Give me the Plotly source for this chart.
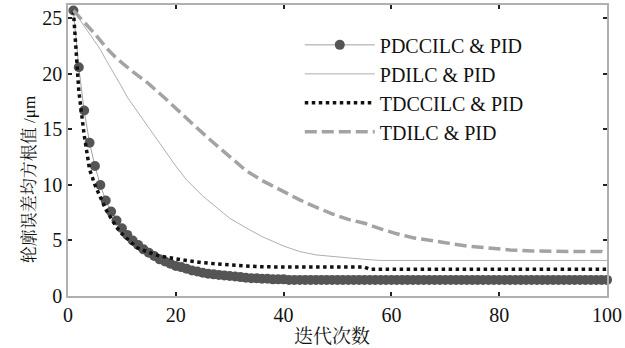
import plotly.graph_objects as go

# PDCCILC & PID (markers at every iteration)
pdccilc_x = list(range(1, 101))
pdccilc_y = [25.7, 20.6, 16.7, 13.8, 11.7, 10.0, 8.6, 7.6, 6.8, 6.1,
             5.5, 5.0, 4.6, 4.2, 3.9, 3.6, 3.3, 3.1, 2.9, 2.7,
             2.6, 2.45, 2.3, 2.2, 2.1, 2.0, 1.95, 1.9, 1.85, 1.8,
             1.75, 1.7, 1.65, 1.6, 1.6, 1.55, 1.55, 1.5, 1.5, 1.5,
             1.45, 1.45, 1.45, 1.45, 1.45, 1.45, 1.45, 1.45, 1.45, 1.45,
             1.45, 1.45, 1.45, 1.45, 1.45, 1.45, 1.45, 1.45, 1.45, 1.45,
             1.45, 1.45, 1.45, 1.45, 1.45, 1.45, 1.45, 1.45, 1.45, 1.45,
             1.45, 1.45, 1.45, 1.45, 1.45, 1.45, 1.45, 1.45, 1.45, 1.45,
             1.45, 1.45, 1.45, 1.45, 1.45, 1.45, 1.45, 1.45, 1.45, 1.45,
             1.45, 1.45, 1.45, 1.45, 1.45, 1.45, 1.45, 1.45, 1.45, 1.45]

# PDILC & PID
pdilc_x = [1, 2, 3, 4, 5, 6, 7, 8, 9, 10, 11, 13, 16, 18, 20, 22, 25, 28, 30, 33,
           36, 40, 43, 46, 50, 55, 58, 60, 100]
pdilc_y = [25.7, 25.0, 24.3, 23.6, 22.9, 22.2, 21.3, 20.5, 19.6, 18.8, 17.9, 16.5,
           14.4, 13.0, 11.7, 10.45, 9.0, 7.8, 7.0, 6.15, 5.35, 4.5, 4.0, 3.7, 3.5, 3.3,
           3.2, 3.2, 3.2]

# TDCCILC & PID
tdccilc_x = [1, 2, 3, 4, 5, 6, 7, 8, 9, 10, 11, 12, 13, 14, 15, 16, 17, 18, 19, 20,
             22, 25, 30, 35, 40, 55, 56, 100]
tdccilc_y = [25.7, 18.5, 14.5, 11.4, 10.0, 8.9, 7.8, 7.0, 6.2, 5.6, 5.1, 4.7, 4.3,
             4.1, 3.9, 3.75, 3.6, 3.5, 3.4, 3.35, 3.2, 3.0, 2.8, 2.65, 2.6, 2.6, 2.4, 2.4]

# TDILC & PID
tdilc_x = [1, 2, 3, 5, 7, 9, 12, 15, 18, 21, 24, 27, 30, 33, 36, 40, 43, 46, 49, 52,
           55, 58, 61, 64, 67, 70, 74, 78, 82, 86, 90, 95, 99, 100]
tdilc_y = [25.7, 25.2, 24.7, 23.6, 22.4, 21.4, 20.2, 19.1, 17.8, 16.4, 15.1, 13.8,
           12.5, 11.3, 10.4, 9.4, 8.65, 8.0, 7.4, 6.9, 6.55, 6.05, 5.6, 5.25, 5.0, 4.8,
           4.5, 4.3, 4.15, 4.05, 4.0, 4.0, 4.0, 3.8]

x_ticks = [0, 20, 40, 60, 80, 100]
y_ticks = [0, 5, 10, 15, 20, 25]
x_title = "迭代次数"
y_title_cjk = "轮廓误差均方根值"
y_title_unit = " /μm"

serif = "Liberation Serif"
cjk = "Noto Serif CJK SC"

fig = go.Figure()
fig.add_trace(go.Scatter(
    x=pdccilc_x, y=pdccilc_y, mode="lines+markers", name="PDCCILC & PID",
    line=dict(color="#8a8a8a", width=0.8),
    marker=dict(color="#555555", size=10, symbol="circle"),
    cliponaxis=False))
fig.add_trace(go.Scatter(
    x=pdilc_x, y=pdilc_y, mode="lines", name="PDILC & PID",
    line=dict(color="#9a9a9a", width=0.8)))
fig.add_trace(go.Scatter(
    x=tdccilc_x, y=tdccilc_y, mode="lines", name="TDCCILC & PID",
    line=dict(color="#111111", width=3.5, dash="dot")))
fig.add_trace(go.Scatter(
    x=tdilc_x, y=tdilc_y, mode="lines", name="TDILC & PID",
    line=dict(color="#a3a3a3", width=3.5, dash="12px,5px")))

axis_common = dict(showline=True, mirror="ticks", linecolor="#b0b0b0", linewidth=1.5,
                   ticks="inside", ticklen=4, tickcolor="#222222", tickwidth=1.5,
                   showgrid=False, zeroline=False, automargin=False,
                   tickfont=dict(family=serif, size=20, color="#111111"))

fig.update_layout(
    width=625, height=348,
    margin=dict(l=68, r=18, t=5, b=52),
    paper_bgcolor="white", plot_bgcolor="white",
    showlegend=True,
    legend=dict(x=0.43, y=0.93, xanchor="left", yanchor="top",
                bgcolor="rgba(0,0,0,0)", itemwidth=70,
                font=dict(family=serif, size=20, color="#111111"),
                tracegroupgap=0),
    xaxis=dict(range=[0, 100], tickvals=x_ticks, **axis_common),
    yaxis=dict(range=[0, 26.2], tickvals=y_ticks, **axis_common),
    annotations=[
        dict(text=x_title, xref="paper", yref="paper", x=0.489, y=-0.131,
             xanchor="center", yanchor="middle", showarrow=False,
             font=dict(family=cjk, size=19, color="#111111")),
        dict(text=y_title_cjk + "<span style='font-family:Liberation Serif'>"
             + y_title_unit + "</span>",
             xref="paper", yref="paper", x=-0.075, y=0.40,
             xanchor="center", yanchor="middle", showarrow=False, textangle=-90,
             font=dict(family=cjk, size=17, color="#111111")),
    ],
)

fig.write_html("out.html", config={"displayModeBar": False},
               post_script="document.body.style.margin='0';")
